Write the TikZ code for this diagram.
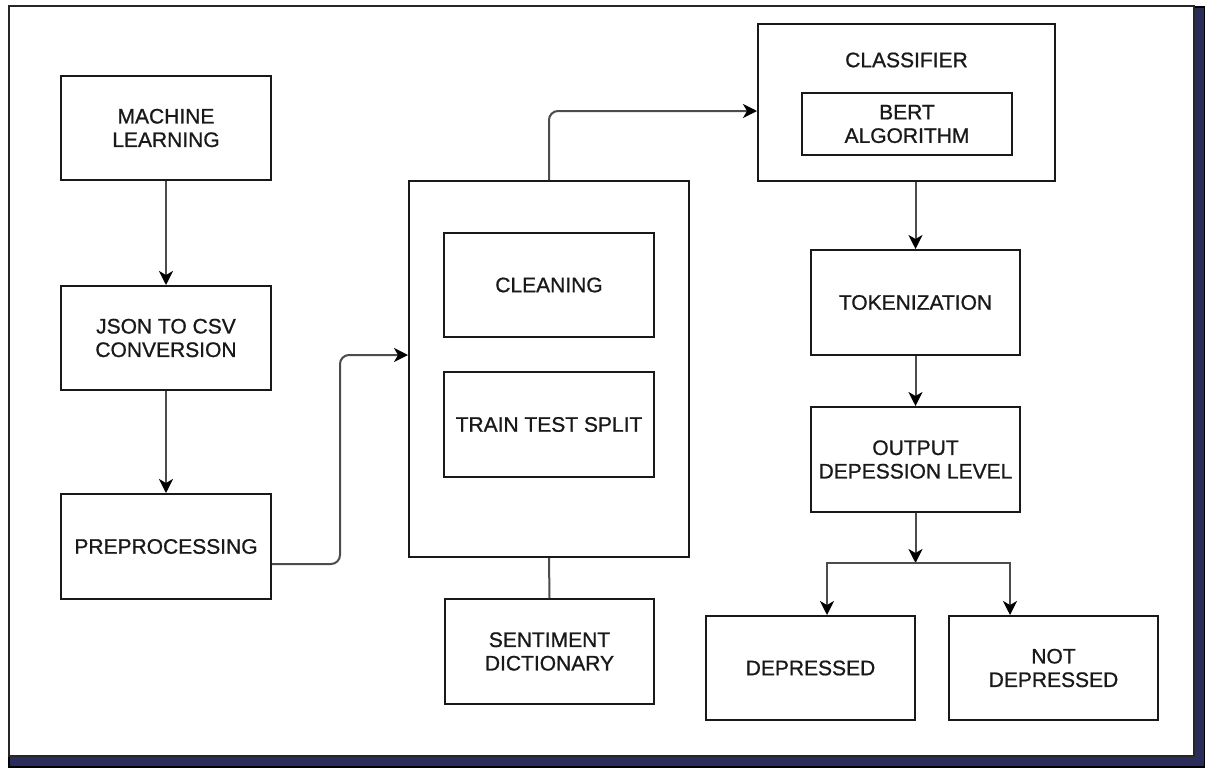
\documentclass[tikz,border=0pt]{standalone}
\usepackage{fontspec}
\setmainfont[FakeBold=0.9]{Liberation Sans}
\usetikzlibrary{arrows.meta,calc}
\definecolor{shadownavy}{RGB}{42,44,92}
\definecolor{inkgray}{RGB}{25,25,25}
\begin{document}
\begin{tikzpicture}[x=1pt,y=-1pt,
  every node/.style={font=\fontsize{21pt}{23.5pt}\selectfont, text=inkgray, align=center, inner sep=0pt},
  box/.style={draw=black!90, line width=2pt, fill=white, minimum width=#1},
  box/.default=210pt,
  link/.style={draw=black!70, line width=2pt},
  arrow/.style={link, -{Stealth[length=14pt,width=14pt,inset=4pt,color=black]}}]
\useasboundingbox (0,0) rectangle (1205,769);
% page frame with shadow
\filldraw[fill=shadownavy, draw=black, line width=1.2pt] (9,7) rectangle (1205,767);
\filldraw[fill=white, draw=black!85, line width=2pt] (9,6) rectangle (1194,756);

% left column
\node[box, minimum height=104pt] (ml) at (166,128) {MACHINE\\LEARNING};
\node[box, minimum height=104pt] (json) at (166,338) {JSON TO CSV\\CONVERSION};
\node[box, minimum height=105pt] (pre) at (166,546.5) {PREPROCESSING};

% middle column
\node[box=280pt, minimum height=376pt] (big) at (549,369) {};
\node[box, minimum height=104pt] (clean) at (549,285) {CLEANING};
\node[box, minimum height=105pt] (tts) at (549,424.5) {TRAIN TEST SPLIT};
\node[box=209pt, minimum height=105pt] (sent) at (549.5,651.5) {SENTIMENT\\DICTIONARY};

% right column
\node[box=297pt, minimum height=157pt] (cls) at (906.5,102.5) {};
\node (clstitle) at (906.5,60) {CLASSIFIER};
\node[box, minimum height=62pt] (bert) at (907,124) {BERT\\ALGORITHM};
\node[box=209pt, minimum height=105pt] (tok) at (915.5,302.5) {TOKENIZATION};
\node[box=209pt, minimum height=105pt] (out) at (915.5,459.5) {OUTPUT\\DEPESSION LEVEL};
\node[box=209pt, minimum height=104pt] (dep) at (810.5,668) {DEPRESSED};
\node[box=209pt, minimum height=104pt] (notdep) at (1053.5,668) {NOT\\DEPRESSED};

% connectors
\draw[arrow] (ml.south) -- (json.north);
\draw[arrow] (json.south) -- (pre.north);
\draw[arrow, rounded corners=9pt] ([yshift=-17.5pt]pre.east) -- (340,564) -- (340,355) -- ([yshift=14pt]big.west);
\draw[arrow, rounded corners=9pt] (big.north) |- ([yshift=-8.5pt]cls.west);
\draw[link] (big.south) -- (sent.north);
\draw[arrow] (tok.north |- cls.south) -- (tok.north);
\draw[arrow] (tok.south) -- (out.north);
\coordinate (split) at (915.5,563);
\coordinate (splitl) at (827,563);
\coordinate (splitr) at (1010,563);
\draw[arrow] (out.south) -- (split);
\draw[link, line cap=rect] (splitl) -- (splitr);
\draw[arrow] (splitl) -- (splitl |- dep.north);
\draw[arrow] (splitr) -- (splitr |- notdep.north);
\end{tikzpicture}
\end{document}
